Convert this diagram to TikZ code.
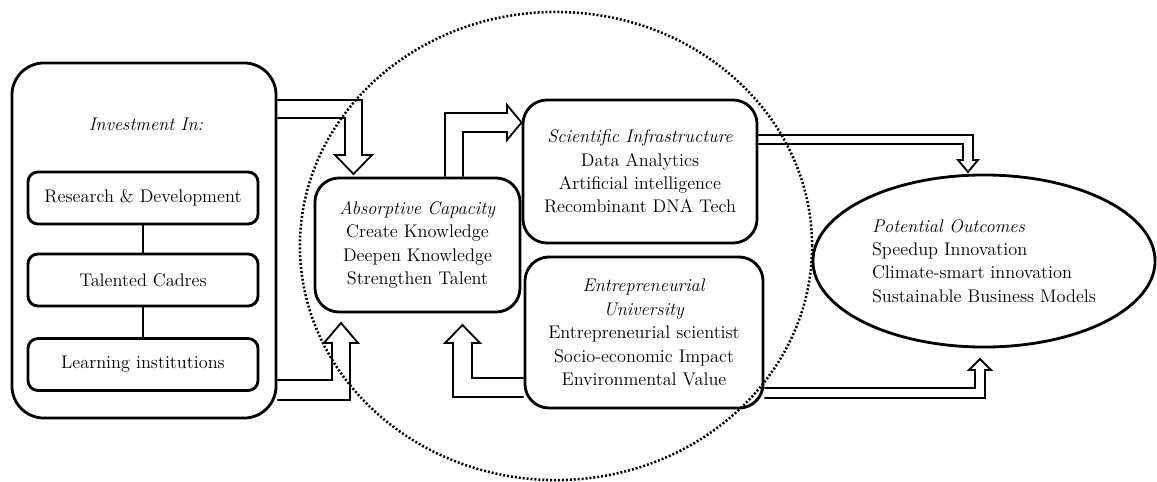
\documentclass[tikz,border=0pt]{standalone}
\usetikzlibrary{shapes.geometric,shadows}

\tikzset{
  box/.style={draw, line width=2pt, rounded corners=0.6cm, fill=white, align=center,
    drop shadow={opacity=0.25, shadow xshift=0.8pt, shadow yshift=-0.8pt}},
  itembox/.style={box, rounded corners=0.25cm, minimum width=5.75cm, minimum height=1.3cm},
  blockarrow/.style={draw, line width=1.3pt, line join=miter},
}

\begin{document}
\begin{tikzpicture}[x=0.025cm, y=-0.025cm, font=\fontsize{13}{16.6}\selectfont]
    \useasboundingbox (0,0) rectangle (1157,481);

    % investment block
    \node[box, rounded corners=0.8cm, minimum width=6.6cm, minimum height=8.875cm] (invest) at (144,240.5) {};
    \node (investtitle) at (146,124) {\textit{Investment In:}};
    \node[itembox] (rd) at (143,198) {Research \& Development};
    \node[itembox] (cadres) at (143,280) {Talented Cadres};
    \node[itembox] (learn) at (143,364.5) {Learning institutions};
    \draw[line width=2pt] (rd) -- (cadres);
    \draw[line width=2pt] (cadres) -- (learn);

    % middle blocks
    \node[box, minimum width=5.125cm, minimum height=3.35cm] (absorb) at (417.5,245)
      {\textit{Absorptive Capacity}\\Create Knowledge\\Deepen Knowledge\\Strengthen Talent};
    \node[box, minimum width=5.85cm, minimum height=3.575cm] (sci) at (640,171.5)
      {\textit{Scientific Infrastructure}\\Data Analytics\\Artificial intelligence\\Recombinant DNA Tech};
    \node[box, minimum width=5.95cm, minimum height=3.775cm] (entre) at (644,332.5)
      {\textit{Entrepreneurial}\\\textit{University}\\Entrepreneurial scientist\\Socio-economic Impact\\Environmental Value};

    % outcomes
    \node[box, ellipse, align=left, inner sep=0pt, minimum width=8.55cm, minimum height=4.3cm] (outcome) at (984,261)
      {\textit{Potential Outcomes}\\Speedup Innovation\\Climate-smart innovation\\Sustainable Business Models};

    % block arrows
    \draw[blockarrow] (invest.east |- 0,100) -- (362,100) -- (362,155) -- (372,155) -- (353.5,174)
      -- (335,155) -- (345,155) -- (345,118) -- (invest.east |- 0,118);
    \draw[blockarrow] (invest.east |- 0,400) -- (350,400) -- (350,343) -- (358,343) -- (341,323)
      -- (324,343) -- (332,343) -- (332,380) -- (invest.east |- 0,380);
    \draw[blockarrow] (absorb.north -| 445,0) -- (445,113) -- (507,113) -- (507,105) -- (sci.west |- 0,122.5)
      -- (507,140) -- (507,132) -- (463,132) -- (absorb.north -| 463,0);
    \draw[blockarrow] (entre.west |- 0,378) -- (472,378) -- (472,343) -- (480,343) -- (462.5,325)
      -- (445,343) -- (453,343) -- (453,397) -- (entre.west |- 0,397);
    \draw[blockarrow] (sci.east |- 0,135) -- (973,135) -- (973,160) -- (978,160) -- (968,172)
      -- (958,160) -- (963,160) -- (963,144) -- (sci.east |- 0,144);
    \draw[blockarrow] (entre.east |- 0,398) -- (985,398) -- (985,370) -- (991,370) -- (980,359)
      -- (969,370) -- (975,370) -- (975,388) -- (entre.east |- 0,388);

    % dotted boundary
    \draw[line width=1.8pt, dash pattern=on 1.4pt off 1.4pt] (556,246) ellipse [x radius=6.4cm, y radius=5.85cm];
\end{tikzpicture}
\end{document}
